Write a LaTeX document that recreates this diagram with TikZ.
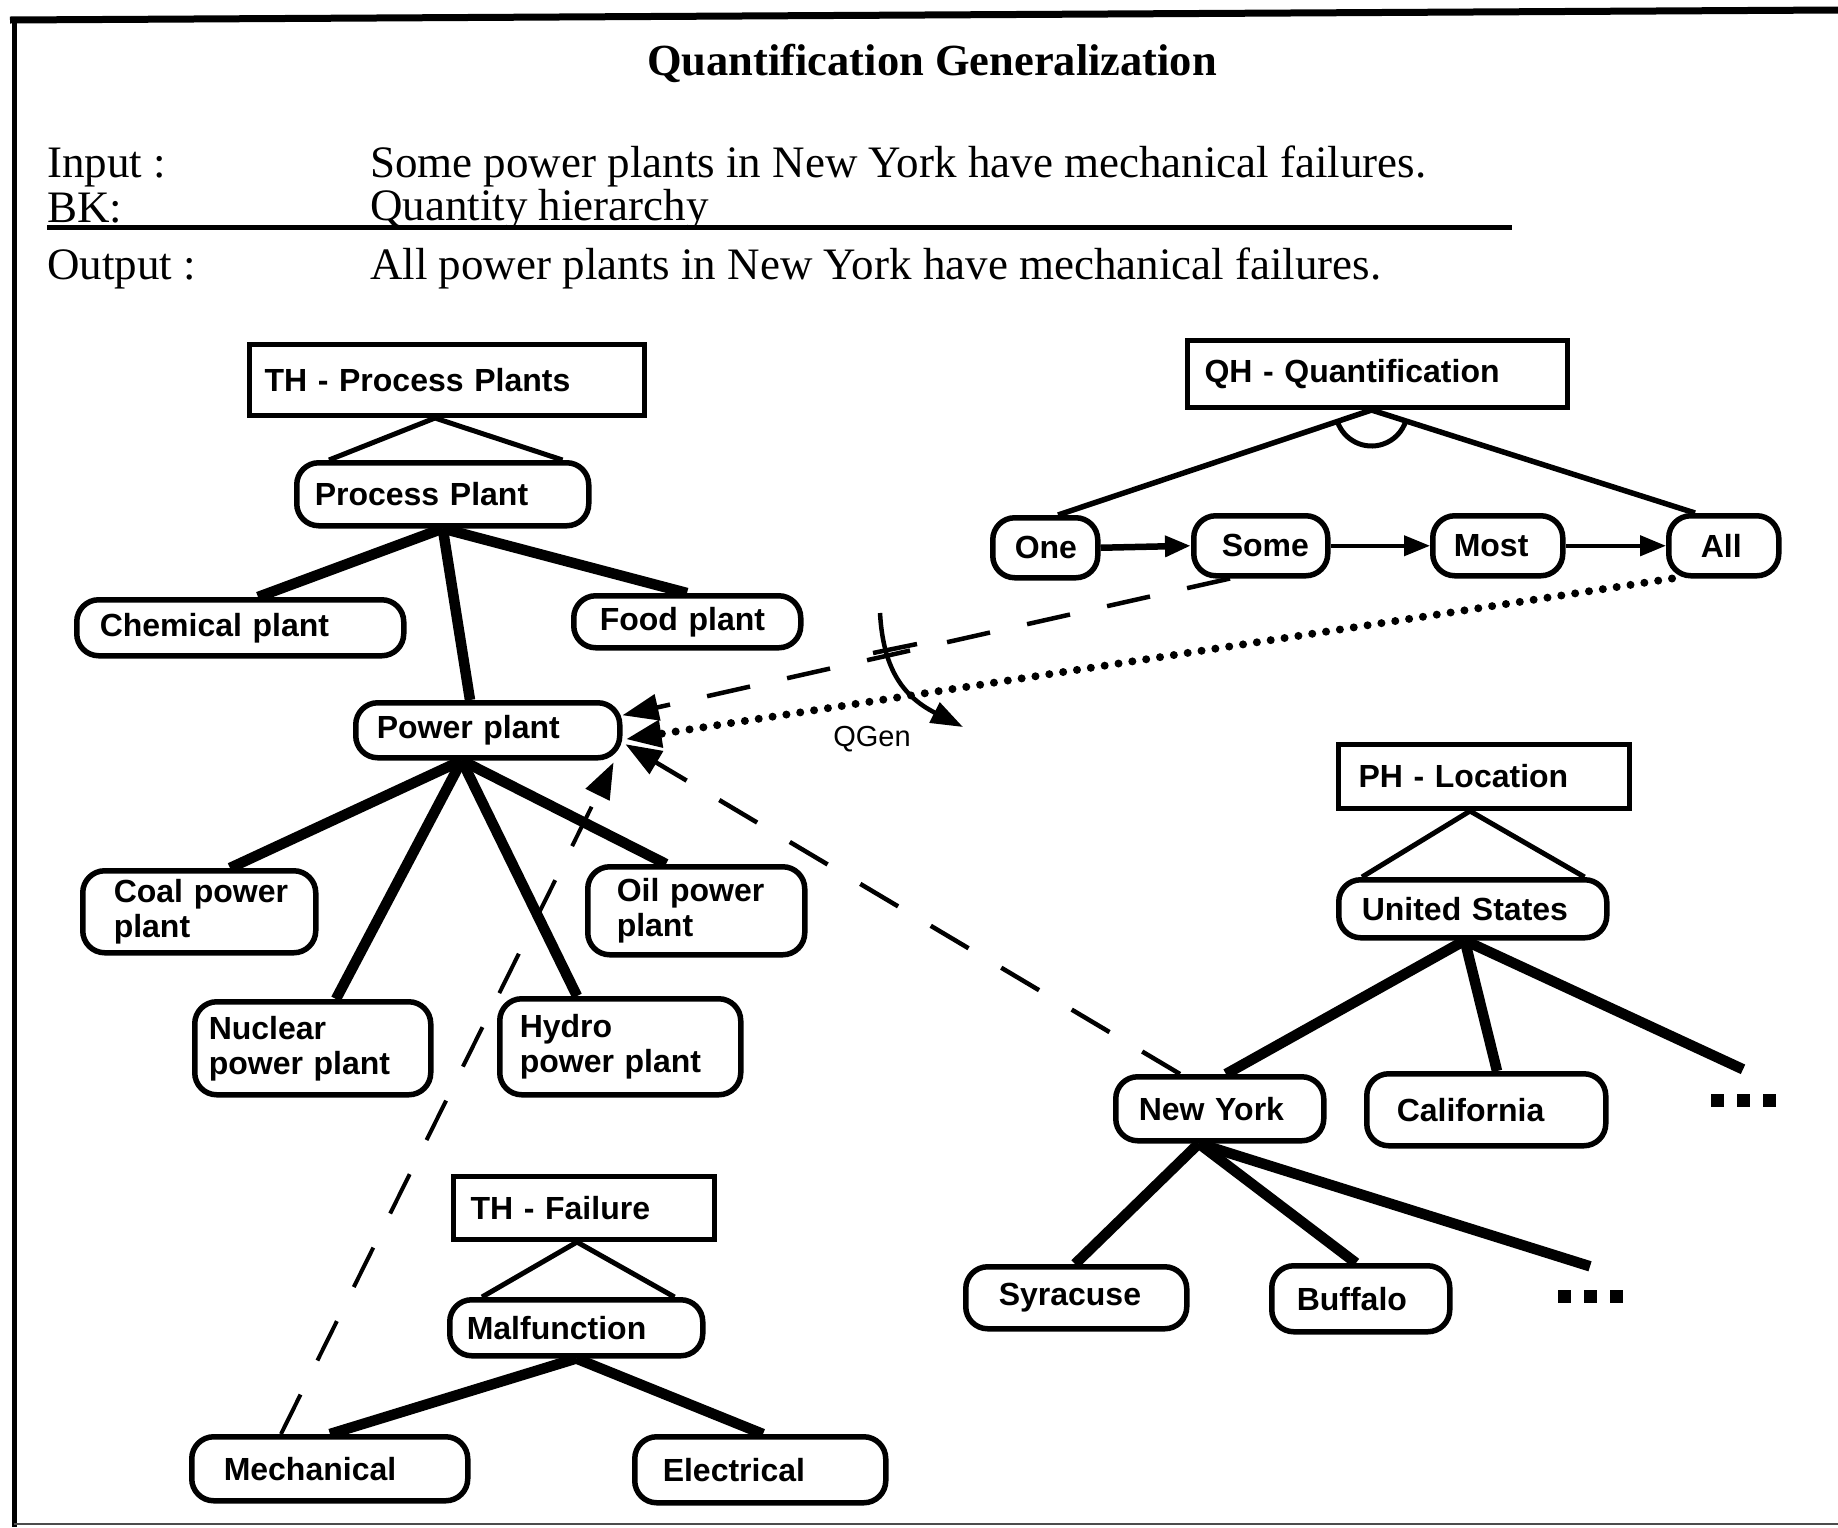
\documentclass[tikz,border=0pt]{standalone}
\usepackage{fontspec}
\setmainfont{Liberation Serif}
\newfontfamily\nf{Liberation Sans}
\usetikzlibrary{arrows.meta}

\newcommand\nodetext{\nf\bfseries\fontsize{32}{35}\selectfont}
\newcommand\headtext{\fontsize{45}{50}\selectfont}
\newcommand\titletext{\bfseries\fontsize{44.5}{50}\selectfont}
\newcommand\threedots{\rule{13pt}{13pt}\hspace{13pt}\rule{13pt}{13pt}\hspace{13pt}\rule{13pt}{13pt}}

\begin{document}
\begin{tikzpicture}[x=1pt,y=-1pt,
  pill/.style={draw, line width=5.5pt, rounded corners=22pt, anchor=north west,
               align=left, inner ysep=0pt, font=\nodetext},
  hbox/.style={draw, line width=5pt, anchor=north west, align=left,
               inner ysep=0pt, font=\nodetext},
  head/.style={anchor=base west, inner sep=0pt, font=\headtext},
  edge/.style={line width=10.5pt},
  tri/.style={line width=5pt, line join=round},
  qline/.style={line width=5.5pt},
  chain/.style={-{Triangle[length=26pt,width=20pt]}},
  bigtip/.style={-{Triangle[length=36pt,width=26pt]}},
  dashlink/.style={bigtip, line width=4.5pt, dash pattern=on 44pt off 38pt},
  dotlink/.style={bigtip, line width=8pt, line cap=round, dash pattern=on 0pt off 14pt},
  dots/.style={inner sep=0pt}
]
\useasboundingbox (0,0) rectangle (1838,1527);

% frame
\draw[line width=7pt] (10,20) -- (1838,10);
\draw[line width=5pt] (14,17) -- (14,1527);
\draw[line width=2.5pt, black!70] (14,1524) -- (1838,1524);

% heading
\node[anchor=base, inner sep=0pt, font=\titletext] (title) at (932,75) {Quantification Generalization};
\node[head] (inlab)  at (47,177) {Input :};
\node[head] (intext) at (370,177) {Some power plants in New York have mechanical failures.};
\node[head] (bklab)  at (47,222) {BK:};
\node[head] (bktext) at (370,220) {Quantity hierarchy};
\node[head] (outlab) at (47,279) {Output :};
\node[head] (outtext) at (370,279) {All power plants in New York have mechanical failures.};
\coordinate (ulstart) at (47,227);
\coordinate (ulend) at (1512,227);
\draw[line width=5pt] (ulstart) -- (ulend);

% ---- type hierarchy: process plants
\node[hbox, inner xsep=15pt, text width=365pt, minimum height=71pt] (thpp) at (247,342) {TH - Process Plants};
\node[pill, inner xsep=18pt, text width=256pt, minimum height=63pt] (pp) at (294,460) {Process Plant};
\node[pill, inner xsep=23pt, text width=281pt, minimum height=56pt] (chem) at (74,597) {Chemical plant};
\node[pill, inner xsep=26pt, text width=175pt, minimum height=52pt] (food) at (571,593) {Food plant};
\node[pill, inner xsep=21pt, text width=222pt, minimum height=55pt] (power) at (353,700) {Power plant};
\node[pill, inner xsep=31pt, text width=171pt, minimum height=82pt] (coal) at (80,868) {\mbox{Coal power}\\plant};
\node[pill, inner xsep=29pt, text width=159pt, minimum height=88pt] (oil) at (585,864) {\mbox{Oil power}\\plant};
\node[pill, inner xsep=14pt, text width=208pt, minimum height=93pt] (nuc) at (192,999) {Nuclear\\\mbox{power plant}};
\node[pill, inner xsep=20pt, text width=201pt, minimum height=96pt] (hydro) at (497,996) {Hydro\\\mbox{power plant}};

\draw[tri] ([xshift=35pt]pp.north west) -- ([xshift=-12pt]thpp.south) -- ([xshift=-29pt]pp.north east);
\draw[edge] (pp.south) -- ([xshift=184pt]chem.north west);
\draw[edge] (pp.south) -- ([xshift=117pt]power.north west);
\draw[edge] (pp.south) -- ([xshift=116pt]food.north west);
\draw[edge] ([xshift=-26pt]power.south) -- ([xshift=150pt]coal.north west);
\draw[edge] ([xshift=-26pt]power.south) -- ([xshift=144pt]nuc.north west);
\draw[edge] ([xshift=-26pt]power.south) -- ([xshift=80pt]hydro.north west);
\draw[edge] ([xshift=-26pt]power.south) -- ([xshift=81pt]oil.north west);

% ---- type hierarchy: failure
\node[hbox, inner xsep=17pt, text width=227pt, minimum height=63pt] (thf) at (451,1174) {TH - Failure};
\node[pill, inner xsep=17pt, text width=219pt, minimum height=56pt] (malf) at (447,1297) {Malfunction};
\node[pill, inner xsep=32pt, text width=212pt, minimum height=64pt] (mech) at (189,1434) {Mechanical};
\node[pill, inner xsep=28pt, text width=195pt, minimum height=66pt] (elec) at (632,1434) {Electrical};

\draw[tri] ([xshift=35pt]malf.north west) -- ([xshift=-7pt]thf.south) -- ([xshift=-31pt]malf.north east);
\draw[edge] (malf.south) -- ([xshift=141pt]mech.north west);
\draw[edge] (malf.south) -- ([xshift=131pt]elec.north west);

% ---- quantifier hierarchy
\node[hbox, inner xsep=17pt, text width=346pt, minimum height=67pt] (qh) at (1185,338) {QH - Quantification};
\node[pill, inner xsep=22pt, text width=61pt, minimum height=60pt] (one) at (990,515) {One};
\node[pill, inner xsep=28pt, text width=78pt, minimum height=60pt] (some) at (1191,513) {\mbox{Some}};
\node[pill, inner xsep=21pt, text width=88pt, minimum height=60pt] (most) at (1430,513) {Most};
\node[pill, inner xsep=32pt, text width=46pt, minimum height=60pt] (all) at (1666,513) {All};

\coordinate (qapex) at ([xshift=-6pt]qh.south);
\draw[qline] ([xshift=68pt]one.north west) -- (qapex) -- ([xshift=29pt]all.north west);
\draw[line width=5pt] ([shift={(198.7:36pt)}]qapex) arc[start angle=198.7, end angle=342.8, radius=36pt];
\draw[chain, line width=6.5pt] (one.east) -- (some.west);
\draw[chain, line width=4pt] (some.east) -- (most.west);
\draw[chain, line width=4.5pt] (most.east) -- (all.west);

% ---- place hierarchy
\node[hbox, inner xsep=20pt, text width=251pt, minimum height=64pt] (ph) at (1336,742) {PH - Location};
\node[pill, inner xsep=23pt, text width=222pt, minimum height=58pt] (us) at (1336,877) {United States};
\node[pill, inner xsep=23pt, text width=162pt, minimum height=64pt] (ny) at (1113,1074) {New York};
\node[pill, inner xsep=30pt, text width=179pt, minimum height=72pt] (cal) at (1364,1071) {California};
\node[dots] (usdots) at (1743,1100) {\threedots};
\node[pill, inner xsep=33pt, text width=155pt, minimum height=62pt] (syr) at (963,1264) {Syracuse};
\node[pill, inner xsep=25pt, text width=128pt, minimum height=66pt] (buf) at (1269,1263) {Buffalo};
\node[dots] (nydots) at (1590,1296) {\threedots};

\draw[tri] ([xshift=26pt]us.north west) -- ([xshift=-14pt]ph.south) -- ([xshift=-25pt]us.north east);
\draw[edge] ([xshift=-8pt]us.south) -- ([xshift=113pt]ny.north west);
\draw[edge] ([xshift=-8pt]us.south) -- ([xshift=133pt]cal.north west);
\draw[edge] ([xshift=-8pt]us.south) -- ([yshift=24pt]usdots.north);
\draw[edge] ([xshift=-21pt]ny.south) -- ([xshift=112pt]syr.north west);
\draw[edge] ([xshift=-21pt]ny.south) -- ([xshift=87pt]buf.north west);
\draw[edge] ([xshift=-21pt]ny.south) -- ([yshift=23pt]nydots.north);

% ---- generalization links into "Power plant"
\draw[dashlink] ([xshift=39pt]some.south west) -- ([yshift=15pt]power.east);
\draw[dotlink] ([xshift=6pt]all.south west) -- ([xshift=3pt,yshift=-9pt]power.east);
\draw[dashlink] ([xshift=67pt]ny.north west) -- ([xshift=3pt,yshift=-14pt]power.east);
\draw[dashlink, line width=4pt] ([xshift=92pt]mech.north west) -- ([xshift=-9pt,yshift=-2pt]power.south east);

% ---- QGen rotation marker
\coordinate (qgstart) at (880,613);
\coordinate (qgend) at (963,727);
\coordinate (tickl) at (873,653);
\coordinate (tickr) at (917,644);
\draw[line width=4.5pt, -{Triangle[length=32pt,width=22pt]}] (qgstart) .. controls (883,665) and (900,695) .. (qgend);
\draw[line width=4.5pt] (tickl) -- (tickr);
\node[font=\nf\fontsize{29}{32}\selectfont, inner sep=0pt] (qgen) at (872,739) {QGen};

\end{tikzpicture}
\end{document}
